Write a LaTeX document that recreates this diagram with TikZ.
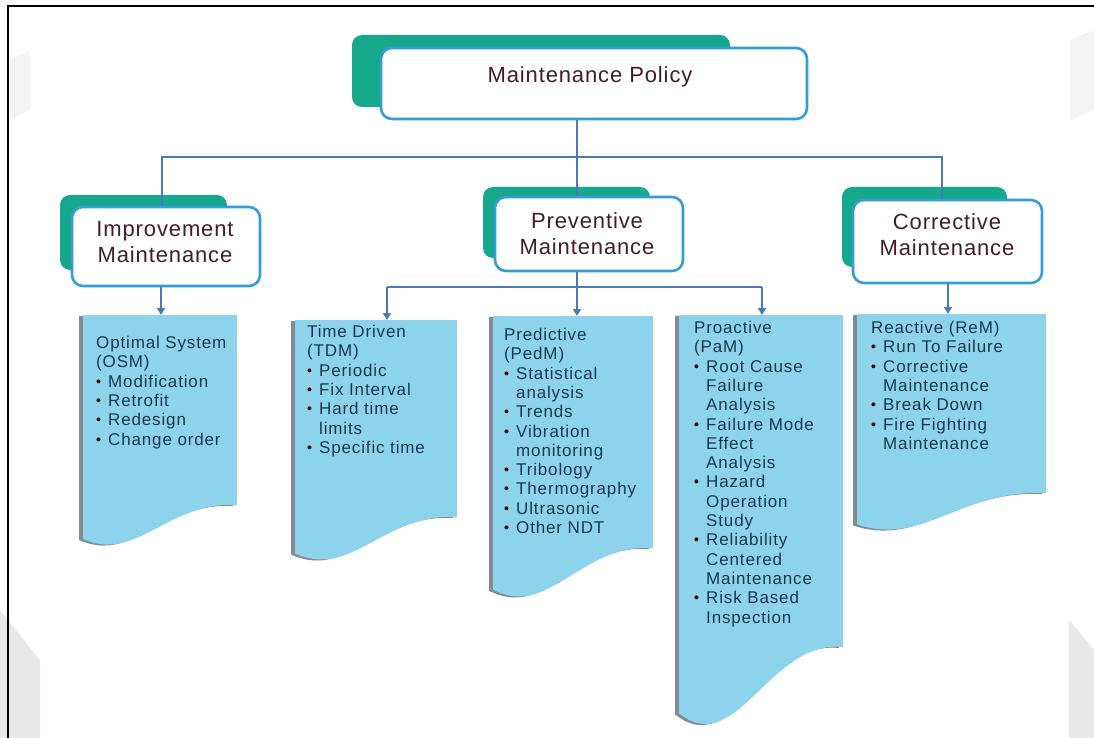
\documentclass[tikz,border=0pt]{standalone}
\usepackage{fontspec}
\setmainfont{Liberation Sans}
\newfontfamily\headfont[LetterSpace=4]{Liberation Sans}
\newfontfamily\listfont[LetterSpace=5]{Liberation Sans}
\usetikzlibrary{arrows.meta}

\definecolor{tealtab}{RGB}{22,168,138}
\definecolor{edgeblue}{RGB}{52,156,214}
\definecolor{linkblue}{RGB}{76,120,186}
\definecolor{headred}{RGB}{66,30,36}
\definecolor{listink}{RGB}{24,56,82}
\definecolor{listblue}{RGB}{142,211,236}
\definecolor{listshade}{RGB}{128,140,146}
\definecolor{markgray}{RGB}{232,232,232}
\definecolor{markpale}{RGB}{243,243,243}

% bullet and continuation indent for the list boxes
\newcommand\lbul{\makebox[12pt][l]{\raisebox{1pt}{\textcolor{black}{\fontsize{14}{14}\selectfont •}}}}
\newcommand\lcont{\hspace*{12pt}}

% document-shaped list box: left, top, right, right-bottom y, left-bottom y
\newcommand\docbox[5]{%
  \fill[listshade,xshift=-4pt,yshift=-1pt]
    (#1,#2) -- (#3,#2) -- (#3,#4)
    .. controls ({#3-0.45*(#3-#1)},{#4-0.1*(#5-#4)}) and ({#1+0.35*(#3-#1)},{#5+0.45*(#5-#4)})
    .. (#1,{#5-0.15*(#5-#4)}) -- cycle;
  \fill[listblue]
    (#1,#2) -- (#3,#2) -- (#3,#4)
    .. controls ({#3-0.45*(#3-#1)},{#4-0.1*(#5-#4)}) and ({#1+0.35*(#3-#1)},{#5+0.45*(#5-#4)})
    .. (#1,{#5-0.15*(#5-#4)}) -- cycle;}

\tikzset{
  conn/.style={draw=linkblue, line width=2.6pt},
  arr/.style={conn, -{Triangle[length=7pt,width=8pt]}},
  headbox/.style={draw=edgeblue, line width=2.6pt, fill=white, rounded corners=11pt, inner sep=0pt},
  headtext/.style={font=\headfont\fontsize{22}{26}\selectfont, text=headred, align=center, inner sep=0pt},
  listtext/.style={font=\listfont\fontsize{17}{19.3}\selectfont, text=listink, align=left, inner sep=0pt, anchor=north west},
  backtab/.style={fill=tealtab, rounded corners=10pt},
}

\begin{document}
\begin{tikzpicture}[x=1pt,y=-1pt]
\useasboundingbox (0,0) rectangle (1094,738);
\fill[white] (0,0) rectangle (1094,738);

% faint marks in the margins
\fill[markgray] (1069,620) -- (1094,650) -- (1094,738) -- (1069,738) -- cycle;
\fill[markgray] (0,610) -- (40,660) -- (40,738) -- (0,738) -- cycle;
\fill[markpale] (1070,40) -- (1094,30) -- (1094,110) -- (1070,120) -- cycle;
\fill[markpale] (10,60) -- (30,50) -- (30,110) -- (10,120) -- cycle;

% frame
\draw[black, line width=2pt] (8,738) -- (8,6) -- (1094,6);

% tabs behind the heading boxes
\fill[backtab] (352,35) rectangle (730,107);
\fill[backtab] (60,195) rectangle (227,270);
\fill[backtab] (483,187) rectangle (650,258);
\fill[backtab] (842,187) rectangle (1007,267);

% heading boxes
\node[headbox, minimum width=426pt, minimum height=71pt] (mp) at (594,83.5) {};
\node[headbox, minimum width=188pt, minimum height=79pt] (imp) at (166,246.5) {};
\node[headbox, minimum width=188pt, minimum height=74pt] (prev) at (589,234) {};
\node[headbox, minimum width=189pt, minimum height=83pt] (cor) at (947.5,241.5) {};

\node[headtext] (mpt) at (590,77) {Maintenance Policy};
\node[headtext] (impt) at (165,242) {Improvement\\Maintenance};
\node[headtext] (prevt) at (587,233.5) {Preventive\\Maintenance};
\node[headtext] (cort) at (947,235) {Corrective\\Maintenance};

% list boxes
\docbox{83}{315}{237}{505}{545}
\docbox{295}{320}{457}{517}{560}
\docbox{493}{316}{653}{548}{597}
\docbox{679}{315}{843}{647}{725}
\docbox{857}{314}{1046}{493}{530}

% bus lines and arrows
\coordinate (b0) at (577,157);
\coordinate (b1) at (162,157);
\coordinate (b3) at (942,157);
\coordinate (s0) at (577,287);
\coordinate (s1) at (387,287);
\coordinate (s2) at (762,287);
\coordinate (osmtop) at (161,315);
\coordinate (tdmtop) at (387,320);
\coordinate (pedtop) at (577,316);
\coordinate (pamtop) at (762,315);
\coordinate (remtop) at (948,314);

\draw[conn] (b0 |- mp.south) -- (b0);
\draw[conn] (b1 |- imp.north) -- (b1) -- (b3) -- (b3 |- cor.north);
\draw[conn] (b0) -- (b0 |- prev.north);
\draw[arr] (osmtop |- imp.south) -- (osmtop);
\draw[conn] (s0 |- prev.south) -- (s0);
\draw[conn] (s1) -- (s2);
\draw[arr] (s0) -- (pedtop);
\draw[arr] (s1) -- (tdmtop);
\draw[arr] (s2) -- (pamtop);
\draw[arr] (remtop |- cor.south) -- (remtop);

% list texts
\node[listtext] (osm) at (96,336) {Optimal System\\(OSM)\\\lbul Modification\\\lbul Retrofit\\\lbul Redesign\\\lbul Change order};
\node[listtext] (tdm) at (307,325) {Time Driven\\(TDM)\\\lbul Periodic\\\lbul Fix Interval\\\lbul Hard time\\\lcont limits\\\lbul Specific time};
\node[listtext] (pedm) at (504,328) {Predictive\\(PedM)\\\lbul Statistical\\\lcont analysis\\\lbul Trends\\\lbul Vibration\\\lcont monitoring\\\lbul Tribology\\\lbul Thermography\\\lbul Ultrasonic\\\lbul Other NDT};
\node[listtext] (pam) at (694,321) {Proactive\\(PaM)\\\lbul Root Cause\\\lcont Failure\\\lcont Analysis\\\lbul Failure Mode\\\lcont Effect\\\lcont Analysis\\\lbul Hazard\\\lcont Operation\\\lcont Study\\\lbul Reliability\\\lcont Centered\\\lcont Maintenance\\\lbul Risk Based\\\lcont Inspection};
\node[listtext] (rem) at (871,321) {Reactive (ReM)\\\lbul Run To Failure\\\lbul Corrective\\\lcont Maintenance\\\lbul Break Down\\\lbul Fire Fighting\\\lcont Maintenance};
\end{tikzpicture}
\end{document}
